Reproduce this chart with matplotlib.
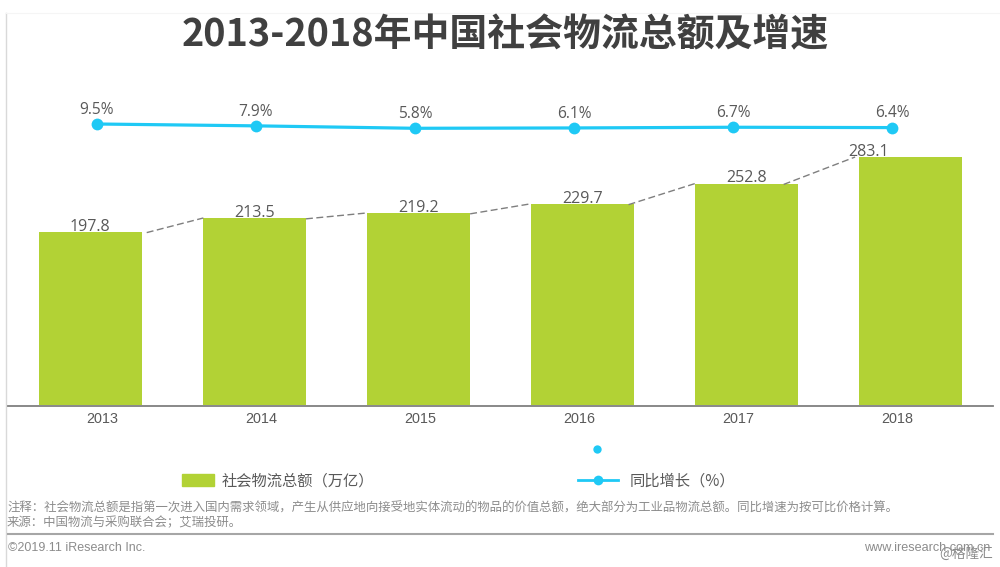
import matplotlib
matplotlib.use("Agg")
import matplotlib.pyplot as plt
from matplotlib.lines import Line2D
from matplotlib.patches import Patch
from matplotlib.transforms import ScaledTranslation

plt.rcParams['font.family'] = ['Noto Sans CJK SC', 'DejaVu Sans']

years = ['2013', '2014', '2015', '2016', '2017', '2018']
totals = [197.8, 213.5, 219.2, 229.7, 252.8, 283.1]
growth = [9.5, 7.9, 5.8, 6.1, 6.7, 6.4]
growth_labels = ['9.5%', '7.9%', '5.8%', '6.1%', '6.7%', '6.4%']

title = '2013-2018年中国社会物流总额及增速'
bar_name = '社会物流总额（万亿）'
line_name = '同比增长（%）'
note1 = '注释：社会物流总额是指第一次进入国内需求领域，产生从供应地向接受地实体流动的物品的价值总额，绝大部分为工业品物流总额。同比增速为按可比价格计算。'
note2 = '来源：中国物流与采购联合会；艾瑞投研。'
copyright_text = '©2019.11 iResearch Inc.'
site_text = 'www.iresearch.com.cn'
mark_text = '@格隆汇'

GREEN = '#B2D235'
CYAN = '#1FC9F5'
TEXT = '#595959'
W, H = 1000, 567
PX_PER_UNIT = 248 / 283.1


def box(x0, y_top, x1, y_bottom):
    return [x0 / W, 1 - y_bottom / H, (x1 - x0) / W, (y_bottom - y_top) / H]


fig = plt.figure(figsize=(10, 5.67), dpi=100, facecolor='white')

# page furniture
page = fig.add_axes([0, 0, 1, 1], zorder=0)
page.set_xlim(0, W)
page.set_ylim(H, 0)
page.axis('off')
page.plot([5.5, 5.5], [13, 567], color='#D9D9D9', lw=1)
page.plot([5.5, 1000], [13, 13], color='#F5F5F5', lw=0.8)
page.plot([7.5, 993], [534, 534], color='#A6A6A6', lw=1.5)
page.plot([597], [449], 'o', color=CYAN, ms=6, mec='none')

# bars
ax = fig.add_axes(box(8, 100, 993, 405), zorder=1)
ax.patch.set_alpha(0)
positions = list(range(len(years)))
ax.bar(positions, totals, width=0.627, color=GREEN, edgecolor='none')
ax.set_xlim(-0.5, 5.5)
ax.set_ylim(0, 305 / PX_PER_UNIT)
ax.axis('off')

label_dx = [0, 0, 0, 0, 0, -0.26]
for p, v, dx in zip(positions, totals, label_dx):
    ax.annotate(f'{v:.1f}', (p + dx, v), xytext=(0, -2), textcoords='offset points',
                ha='center', va='bottom', fontsize=11.5, color=TEXT,
                family=['Open Sans', 'DejaVu Sans'], linespacing=1)

dash_start = [0.345, 0.315, 0.315, 0.28, 0.225]
dash_end = [0.69, 0.685, 0.685, 0.685, 0.66]
for i in range(len(totals) - 1):
    ax.plot([i + dash_start[i], i + dash_end[i]], [totals[i] - 1, totals[i + 1]],
            color='#7F7F7F', lw=1, ls=(0, (5, 2.5)))

# growth line
lax = fig.add_axes(box(17.5, 100, 971.5, 405), zorder=2)
lax.patch.set_alpha(0)
lax.plot(positions, growth, color=CYAN, lw=2.3, marker='o', ms=8.5, mec='none')
lax.set_xlim(-0.5, 5.5)
lax.set_ylim(9.5 - (405 - 124) / 1.16, 9.5 + 24 / 1.16)
for s in ['top', 'left', 'right', 'bottom']:
    lax.spines[s].set_visible(False)
lax.set_yticks([])
lax.set_xticks(positions, years)
lax.tick_params(axis='x', length=0, pad=5, labelsize=10.4, labelcolor=TEXT)
offset = ScaledTranslation(5 / 100, 0, fig.dpi_scale_trans)
for t in lax.get_xticklabels():
    t.set_family(['Liberation Sans', 'DejaVu Sans'])
    t.set_transform(t.get_transform() + offset)
for p, v, s in zip(positions, growth, growth_labels):
    lax.annotate(s, (p, v), xytext=(0, 10.2), textcoords='offset points',
                 ha='center', va='center', fontsize=11.2, color=TEXT,
                 family=['Open Sans', 'DejaVu Sans'])

# baseline on top of the bars
page2 = fig.add_axes([0, 0, 1, 1], zorder=3)
page2.patch.set_alpha(0)
page2.set_xlim(0, W)
page2.set_ylim(H, 0)
page2.axis('off')
page2.plot([7.5, 993], [405.5, 405.5], color='#7F7F7F', lw=1.3)

# legends
leg1 = fig.legend(handles=[Patch(color=GREEN, label=bar_name)], loc='center left',
                  bbox_to_anchor=(182 / W, 1 - 481 / H), frameon=False, fontsize=11,
                  labelcolor=TEXT, borderpad=0, borderaxespad=0, handlelength=2.1,
                  handleheight=0.85, handletextpad=0.52)
leg2 = fig.legend(handles=[Line2D([], [], color=CYAN, lw=2, marker='o', ms=7, mec='none',
                                  label=line_name)], loc='center left',
                  bbox_to_anchor=(578 / W, 1 - 481 / H), frameon=False, fontsize=11,
                  labelcolor=TEXT, borderpad=0, borderaxespad=0, handlelength=2.6,
                  handletextpad=0.8)

# text
fig.text(505 / W, 1 - 35 / H, title, ha='center', va='center', fontsize=27.3,
         fontweight='bold', color='#404040')
fig.text(7 / W, 1 - 508 / H, note1, ha='left', va='center', fontsize=8.94, color='#8C8C8C')
fig.text(7 / W, 1 - 523 / H, note2, ha='left', va='center', fontsize=8.94, color='#8C8C8C')
fig.text(8 / W, 1 - 548 / H, copyright_text, ha='left', va='center', fontsize=9,
         color='#8C8C8C', family=['Liberation Sans', 'DejaVu Sans'])
fig.text(990 / W, 1 - 548 / H, site_text, ha='right', va='center', fontsize=9.1,
         color='#8C8C8C', family=['Liberation Sans', 'DejaVu Sans'])
fig.text(993 / W, 1 - 554 / H, mark_text, ha='right', va='center', fontsize=9.8, color='#8C8C8C')

fig.savefig('out.png', dpi=100, facecolor='white')
